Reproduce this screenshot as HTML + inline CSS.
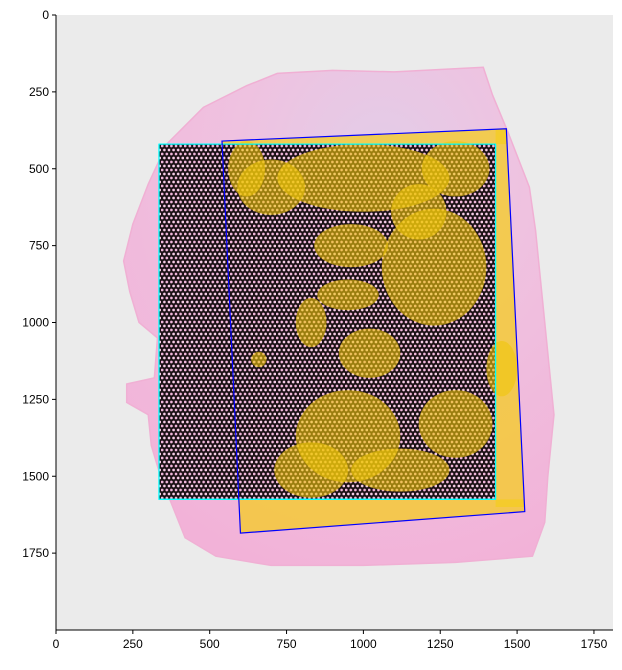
<!DOCTYPE html>
<html><head><meta charset="utf-8"><style>
body{margin:0;background:#fff;}
svg text{font-family:"Liberation Sans",sans-serif;font-size:12px;fill:#000;}
</style></head><body>
<svg id="chart" width="622" height="665" viewBox="0 0 622 665" xmlns="http://www.w3.org/2000/svg">
<defs>
<pattern id="spots" patternUnits="userSpaceOnUse" width="4.6" height="8" x="0" y="0">
<rect width="4.6" height="8" fill="#1a1014"/>
<circle cx="1.15" cy="2" r="1.4" fill="#f0b6da"/>
<circle cx="3.45" cy="6" r="1.4" fill="#f6cce6"/>
</pattern>
<radialGradient id="tis" cx="0.6" cy="0.2" r="0.85">
<stop offset="0" stop-color="#e2cde8"/><stop offset="0.4" stop-color="#efc2e0"/><stop offset="1" stop-color="#f2b2d8"/>
</radialGradient>
</defs>
<g id="layer"></g>
</svg>
<script>
const NS='http://www.w3.org/2000/svg';
const xTicks=[0,250,500,750,1000,1250,1500,1750];
const yTicks=[0,250,500,750,1000,1250,1500,1750];
const xMax=1812, yMax=2000;
const tissueOutline=[[480,300],[620,230],[720,190],[900,180],[1100,185],[1390,170],[1420,260],[1470,380],[1540,560],[1560,700],[1580,900],[1600,1100],[1620,1300],[1600,1500],[1590,1650],[1550,1760],[1300,1780],[1000,1790],[700,1790],[520,1760],[420,1700],[380,1600],[340,1500],[310,1400],[300,1300],[230,1260],[230,1200],[320,1180],[330,1050],[270,1000],[240,900],[220,800],[250,680],[300,550],[360,420]];
const cyanRect=[[335,420],[1430,420],[1430,1575],[335,1575]];
const blueQuad=[[540,410],[1465,370],[1525,1615],[600,1685]];
const yellowCx=[1000,1230,700,960,950,1300,950,830,1120,1450,1020,660,1300,830,1180,620];
const yellowCy=[530,820,560,750,910,1330,1370,1480,1480,1150,1100,1120,500,1000,640,500];
const yellowRx=[280,170,110,120,100,120,170,120,160,50,100,25,110,50,90,60];
const yellowRy=[110,190,90,70,50,110,150,90,70,90,80,25,90,80,90,90];
const strips=[
  [[540,350],[1480,350],[1480,420],[540,420]],
  [[560,1575],[1540,1575],[1540,1700],[560,1700]],
  [[1430,350],[1540,350],[1540,1600],[1430,1600]]
];

const L=56,T=15,W=557,H=615;
const sx=v=>L+v/xMax*W, sy=v=>T+v/yMax*H;
const svg=document.getElementById('chart');
const g=document.getElementById('layer');
function el(tag,attrs,parent){const e=document.createElementNS(NS,tag);for(const k in attrs)e.setAttribute(k,attrs[k]);(parent||g).appendChild(e);return e;}
const pts=a=>a.map(p=>sx(p[0])+','+sy(p[1])).join(' ');

let bg=el('rect',{x:L,y:T,width:W,height:H,fill:'#ebebeb'});


let tissue=el('polygon',{points:pts(tissueOutline),fill:'url(#tis)',stroke:'#f0b0d4','stroke-width':1.5});


let grid=el('polygon',{points:pts(cyanRect),fill:'url(#spots)'});



const cp=el('clipPath',{id:'quadclip'},svg.querySelector('defs'));
el('polygon',{points:pts(blueQuad)},cp);
const yg=el('g',{'clip-path':'url(#quadclip)'});


strips.forEach(s=>{
  const p=el('polygon',{points:pts(s),fill:'#f4cc20','fill-opacity':0.75},yg);
  
  
});
for(let i=0;i<yellowCx.length;i++){
  const e=el('ellipse',{cx:sx(yellowCx[i]),cy:sy(yellowCy[i]),rx:yellowRx[i]/xMax*W,ry:yellowRy[i]/yMax*H,fill:'#f0c60a','fill-opacity':0.6},yg);
  
  
}
let cy=el('polygon',{points:pts(cyanRect),fill:'none',stroke:'#00ffff','stroke-width':1.3,'stroke-linejoin':'round'});


let bq=el('polygon',{points:pts(blueQuad),fill:'none',stroke:'#0000ff','stroke-width':1.2});



let ax=el('path',{d:`M${L} ${T}V${T+H}H${L+W}`,fill:'none',stroke:'#000','stroke-width':1});


xTicks.forEach(t=>{const x=sx(t);
  el('line',{x1:x,x2:x,y1:T+H,y2:T+H+4,stroke:'#000'});
  const tx=el('text',{x:x,y:T+H+18,'text-anchor':'middle'});tx.textContent=t;
  
  
});
yTicks.forEach(t=>{const y=sy(t);
  el('line',{x1:L-4,x2:L,y1:y,y2:y,stroke:'#000'});
  const tx=el('text',{x:L-7,y:y+4,'text-anchor':'end'});tx.textContent=t;
  
  
});
</script>
</body></html>
